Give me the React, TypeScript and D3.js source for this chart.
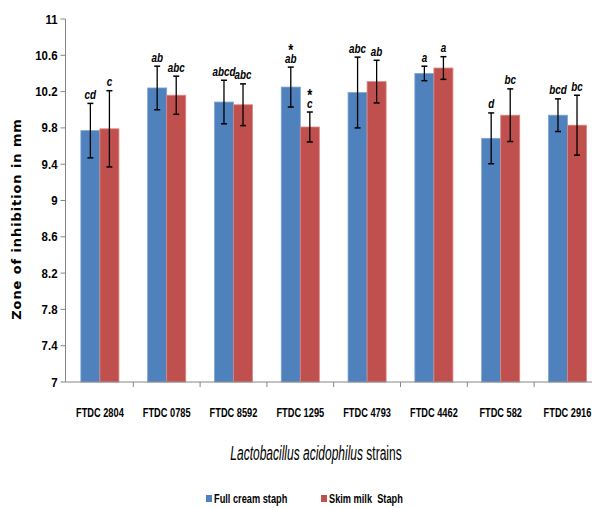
import React from "react";
import * as d3 from "d3";

const categories = ["FTDC 2804", "FTDC 0785", "FTDC 8592", "FTDC 1295", "FTDC 4793", "FTDC 4462", "FTDC 582", "FTDC 2916"];
const seriesNames = ["Full cream staph", "Skim milk  Staph"];
const fullCream = [9.77, 10.24, 10.085, 10.25, 10.19, 10.4, 9.685, 9.94];
const fullCreamErr = [0.3, 0.24, 0.24, 0.22, 0.39, 0.08, 0.28, 0.18];
const skimMilk = [9.79, 10.16, 10.055, 9.81, 10.31, 10.46, 9.94, 9.83];
const skimMilkErr = [0.42, 0.21, 0.23, 0.165, 0.235, 0.125, 0.29, 0.33];
const fullCreamLetters = ["cd", "ab", "abcd", "ab", "abc", "a", "d", "bcd"];
const skimMilkLetters = ["c", "abc", "abc", "c", "ab", "a", "bc", "bc"];
const fullCreamStar = [false, false, false, true, false, false, false, false];
const skimMilkStar = [false, false, false, true, false, false, false, false];
const yTicks = [7, 7.4, 7.8, 8.2, 8.6, 9, 9.4, 9.8, 10.2, 10.6, 11];

const W = 592;
const H = 508;
const SANS = "'Liberation Sans', Arial, sans-serif";
const COLORS = ["#4F81BD", "#C0504D"];
const STROKES = ["#7FA3D3", "#D98886"];

type NTProps = {
  x: number;
  y: number;
  sx: number;
  size: number;
  anchor?: "start" | "middle" | "end";
  weight?: string;
  italic?: boolean;
  dy?: string;
  children: React.ReactNode;
};

function NText({ x, y, sx, size, anchor = "start", weight = "bold", italic = false, dy, children }: NTProps) {
  return (
    <text
      transform={`translate(${x},${y}) scale(${sx},1)`}
      x={0}
      y={0}
      dy={dy}
      textAnchor={anchor}
      fontFamily={SANS}
      fontWeight={weight}
      fontStyle={italic ? "italic" : "normal"}
      fontSize={size}
      fill="#000"
      style={{ whiteSpace: "pre" }}
    >
      {children}
    </text>
  );
}

export default function App() {
  const x0 = 66.5;
  const step = 66.8;
  const x = d3
    .scaleBand<string>()
    .domain(categories)
    .range([x0, x0 + step * categories.length])
    .paddingInner(0.43)
    .paddingOuter(0.215);
  const xs = d3.scaleBand<string>().domain(["0", "1"]).range([0, x.bandwidth()]);
  const y = d3.scaleLinear().domain([7, 11]).range([382, 19]);
  const axisX = 65.5;

  const series = [
    { vals: fullCream, errs: fullCreamErr, letters: fullCreamLetters, star: fullCreamStar },
    { vals: skimMilk, errs: skimMilkErr, letters: skimMilkLetters, star: skimMilkStar },
  ];

  const boundaries = categories.map((c) => (x(c) as number) - (x.step() * x.paddingInner()) / 2);

  return (
    <svg width={W} height={H} style={{ position: "absolute", left: 0, top: 0, background: "#fff" }}>
      <rect x={0} y={0} width={W} height={H} fill="#fff" />
      {series.map((s, si) =>
        categories.map((c, i) => {
          const bx = (x(c) as number) + (xs(String(si)) as number);
          const bw = xs.bandwidth();
          const top = y(s.vals[i]);
          return (
            <rect key={`b${si}-${i}`} x={bx} y={top} width={bw} height={y(7) - top} fill={COLORS[si]} stroke={STROKES[si]} strokeWidth={0.8} />
          );
        })
      )}
      {series.map((s, si) =>
        categories.map((c, i) => {
          const cx = (x(c) as number) + (xs(String(si)) as number) + xs.bandwidth() / 2;
          const yt = y(s.vals[i] + s.errs[i]);
          const yb = y(s.vals[i] - s.errs[i]);
          const lb = yt - 4.5;
          return (
            <g key={`e${si}-${i}`}>
              <line x1={cx} x2={cx} y1={yt} y2={yb} stroke="#000" strokeWidth={1.3} />
              <line x1={cx - 3} x2={cx + 3} y1={yt} y2={yt} stroke="#000" strokeWidth={1.5} />
              <line x1={cx - 3} x2={cx + 3} y1={yb} y2={yb} stroke="#000" strokeWidth={1.5} />
              <NText x={cx} y={lb} sx={0.76} size={13} anchor="middle" italic>
                {s.star[i] && (
                  <tspan x={0} dy={-7} fontSize={17} fontStyle="normal">
                    *
                  </tspan>
                )}
                <tspan x={0} dy={s.star[i] ? 7 : 0}>
                  {s.letters[i]}
                </tspan>
              </NText>
            </g>
          );
        })
      )}
      <line x1={axisX} x2={axisX} y1={y(11)} y2={y(7)} stroke="#868686" strokeWidth={1} />
      {yTicks.map((t) => (
        <g key={`yt${t}`}>
          <line x1={axisX - 5} x2={axisX} y1={y(t)} y2={y(t)} stroke="#868686" />
          <NText x={axisX - 8} y={y(t)} dy="0.35em" sx={0.88} size={13} anchor="end">
            {String(t)}
          </NText>
        </g>
      ))}
      <line x1={axisX} x2={W} y1={y(7)} y2={y(7)} stroke="#868686" strokeWidth={1} />
      {boundaries.slice(1).map((b, i) => (
        <line key={`xt${i}`} x1={b} x2={b} y1={y(7)} y2={y(7) + 5} stroke="#868686" />
      ))}
      {categories.map((c) => (
        <NText key={`xl${c}`} x={(x(c) as number) + x.bandwidth() / 2} y={417} sx={0.74} size={12.5} anchor="middle">
          {c}
        </NText>
      ))}
      <NText x={316} y={460} sx={0.6} size={20} anchor="middle" weight="normal">
        <tspan fontStyle="italic">Lactobacillus acidophilus</tspan>
        <tspan> strains</tspan>
      </NText>
      <text
        transform={`translate(21, 219) rotate(-90)`}
        textAnchor="middle"
        fontFamily="'DejaVu Sans', Verdana, sans-serif"
        fontWeight="bold"
        fontSize={13}
        letterSpacing={0.9}
        fill="#000"
      >
        Zone of inhibition in mm
      </text>
      {seriesNames.map((n, i) => {
        const lx = [206, 321][i];
        return (
          <g key={`lg${i}`}>
            <rect x={lx} y={495} width={6} height={7} fill={COLORS[i]} />
            <NText x={lx + 8} y={503} sx={0.71} size={13}>
              {n}
            </NText>
          </g>
        );
      })}
    </svg>
  );
}
